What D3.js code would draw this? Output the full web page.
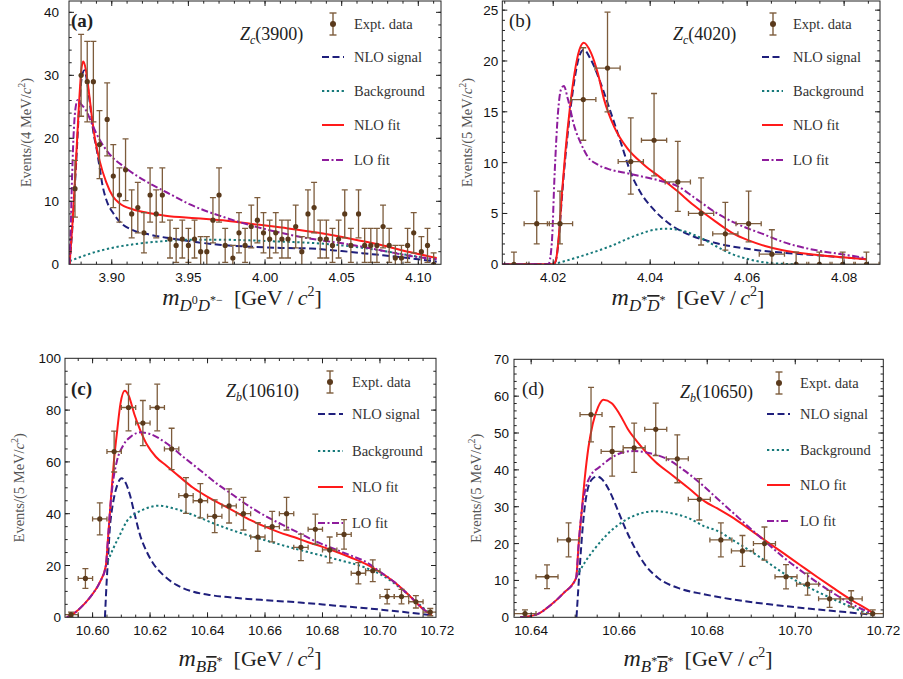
<!DOCTYPE html>
<html>
<head>
<meta charset="utf-8">
<script src="https://cdn.jsdelivr.net/npm/d3@7"></script>
<style>
body { margin: 0; background: #fff; }
svg { display: block; }
</style>
</head>
<body>
<svg id="fig" width="903" height="679"></svg>
<script>
// ---- panel (a): Zc(3900), D0 D*- spectrum
var aMass = [3.876, 3.880, 3.884, 3.888, 3.892, 3.897, 3.901, 3.905, 3.909, 3.913,
  3.917, 3.921, 3.925, 3.929, 3.933, 3.938, 3.942, 3.946, 3.950, 3.954,
  3.958, 3.962, 3.966, 3.970, 3.974, 3.979, 3.983, 3.987, 3.991, 3.995,
  3.999, 4.003, 4.007, 4.011, 4.015, 4.020, 4.024, 4.028, 4.032, 4.036,
  4.040, 4.044, 4.048, 4.052, 4.056, 4.061, 4.065, 4.069, 4.073, 4.077,
  4.081, 4.085, 4.089, 4.093, 4.097, 4.102, 4.106, 4.110];
var aEvents = [12, 30, 29, 29, 19, 23, 14, 11, 15, 8, 9, 5, 11, 8, 11, 4, 3, 4, 3, 4,
  2, 2, 7, 11, 3, 1, 5, 3, 6, 7, 5, 4, 5, 4, 4, 6, 2, 8, 9, 4,
  4, 3, 4, 8, 3, 8, 3, 3, 3, 6, 3, 1, 1, 3, 5, 2, 3, 0];
var aErr = [4.5, 6.5, 6.4, 6.4, 5.4, 5.8, 5.0, 4.3, 4.9, 3.8, 4.0, 3.2, 4.3, 3.8, 4.3, 3.0, 2.7, 3.0, 2.7, 3.0,
  2.4, 2.4, 3.6, 4.3, 2.7, 2.0, 3.2, 2.7, 3.4, 3.6, 3.2, 3.0, 3.2, 3.0, 3.0, 3.4, 2.4, 3.8, 4.0, 3.0,
  3.0, 2.7, 3.0, 3.8, 2.7, 3.8, 2.7, 2.7, 2.7, 3.4, 2.7, 2.0, 2.0, 2.7, 3.2, 2.4, 2.7, 1.8];
var aSignal = [[3.8725,0],[3.8745,6.5],[3.8767,15.8],[3.8789,25.5],[3.8805,29.8],[3.8822,30.8],[3.884,28.8],
  [3.886,25],[3.888,21],[3.890,18.5],[3.892,15.5],[3.894,12.5],[3.8965,10.2],[3.901,8.1],[3.905,6.8],
  [3.914,5.4],[3.925,4.7],[3.936,4.2],[3.950,3.7],[3.970,3.1],[3.990,2.8],[4.010,2.6],[4.030,2.5],
  [4.050,2.1],[4.070,1.6],[4.090,1.1],[4.112,0.4]];
var aBackground = [[3.8725,0.5],[3.880,1.2],[3.890,2.0],[3.900,2.6],[3.915,3.2],[3.930,3.6],[3.950,3.9],
  [3.970,3.9],[3.990,3.8],[4.010,3.6],[4.030,3.4],[4.050,3.0],[4.070,2.4],[4.090,1.6],[4.112,0.7]];
var aNloFit = [[3.8725,0],[3.8745,7],[3.8767,16.6],[3.8789,26.6],[3.8804,31.4],[3.8815,32.2],[3.883,31],
  [3.885,27.5],[3.887,23.5],[3.889,20],[3.892,16.5],[3.8963,13.1],[3.9007,10.8],[3.905,9.7],[3.914,8.7],
  [3.925,8.1],[3.935,7.7],[3.955,7.3],[3.975,6.9],[3.995,6.3],[4.015,5.7],[4.035,5.0],[4.055,4.1],
  [4.075,3.1],[4.095,1.9],[4.112,1.0]];
var aLoFit = [[3.8721,0],[3.8730,4],[3.8740,13],[3.8750,20],[3.8762,24.5],[3.8778,26.1],[3.879,25.7],
  [3.8833,24.4],[3.8876,22],[3.892,19.8],[3.8985,17.5],[3.909,15.3],[3.925,12.8],[3.936,11.4],[3.951,9.5],
  [3.973,7.5],[3.995,5.9],[4.016,4.7],[4.034,3.9],[4.054,3.2],[4.076,2.2],[4.098,1.2],[4.112,0.8]];
var aXTicks = [3.90, 3.95, 4.00, 4.05, 4.10];
var aYTicks = [0, 10, 20, 30, 40];

// ---- panel (b): Zc(4020), D* Dbar* spectrum
var bMass = [4.0119, 4.0166, 4.0214, 4.0262, 4.0312, 4.0360, 4.0408, 4.0457, 4.0505, 4.0555,
  4.0603, 4.0651, 4.0701, 4.0749, 4.0797, 4.0846];
var bEvents = [0, 4, 4, 16.2, 19.3, 10.1, 12.2, 8.1, 5.0, 3.0, 4.0, 1.0, 0, 0, 0, 0];
var bErrUp = [1.2, 3.2, 3.2, 5.1, 5.5, 4.3, 4.6, 4.0, 3.5, 3.1, 3.2, 2.4, 1.2, 1.2, 1.2, 1.2];
var bErrLo = [0, 2.0, 2.0, 4.0, 4.3, 3.2, 3.5, 2.9, 3.1, 1.6, 1.8, 1.0, 0, 0, 0, 0];
var bSignal = [[4.0095,0],[4.0200,0],[4.0205,0.3],[4.0212,2.8],[4.0218,6.6],[4.0225,10.5],[4.0234,14.6],
  [4.0244,18.2],[4.0254,20.5],[4.0263,21.1],[4.0278,20.1],[4.0298,17.8],[4.0319,14.9],[4.0340,11.9],
  [4.0360,9.0],[4.0381,7.0],[4.0408,5.35],[4.0442,3.9],[4.0476,3.0],[4.0535,2.1],[4.0603,1.5],
  [4.0671,1.15],[4.0740,0.9],[4.0846,0.5]];
var bBackground = [[4.0200,0],[4.0251,0.7],[4.0319,1.8],[4.0374,2.9],[4.0415,3.45],[4.0435,3.5],
  [4.0466,3.3],[4.0500,2.7],[4.0535,1.8],[4.0569,1.0],[4.0603,0.5],[4.0637,0.18],[4.0671,0.05],[4.0700,0]];
var bNloFit = [[4.0095,0],[4.0200,0],[4.0205,0.3],[4.0212,3],[4.0218,7],[4.0225,11],[4.0234,15.2],
  [4.0244,18.8],[4.0254,21.1],[4.0263,21.8],[4.0278,20.8],[4.0292,18.8],[4.0305,16.2],[4.0326,13.5],
  [4.0353,11.4],[4.0387,9.8],[4.0422,8.5],[4.0456,7.2],[4.0490,5.8],[4.0535,4.2],[4.0569,3.1],
  [4.0603,2.35],[4.0637,1.8],[4.0671,1.4],[4.0740,0.95],[4.0808,0.65],[4.0846,0.5]];
var bLoFit = [[4.0095,0],[4.0190,0],[4.0197,2],[4.0203,9],[4.0210,15],[4.0216,17.2],[4.0222,17.55],
  [4.0230,16.3],[4.0244,13.5],[4.0257,11.9],[4.0271,10.6],[4.0292,9.8],[4.0319,9.3],[4.0353,8.95],
  [4.0387,8.6],[4.0422,8.2],[4.0456,7.7],[4.0490,6.6],[4.0535,5.1],[4.0569,4.2],[4.0603,3.5],
  [4.0637,2.9],[4.0671,2.25],[4.0740,1.4],[4.0808,0.9],[4.0846,0.6]];
var bXTicks = [4.02, 4.04, 4.06, 4.08];
var bYTicks = [0, 5, 10, 15, 20, 25];

// ---- panel (c): Zb(10610), B Bbar* spectrum
var cMass = [10.5925, 10.5975, 10.6025, 10.6075, 10.6125, 10.6175, 10.6225, 10.6275, 10.6325, 10.6375,
  10.6425, 10.6475, 10.6525, 10.6575, 10.6625, 10.6675, 10.6725, 10.6775, 10.6825, 10.6875,
  10.6925, 10.6975, 10.7025, 10.7075, 10.7125, 10.7175];
var cEvents = [1, 15, 38, 64, 81, 75, 81, 65, 47, 45, 39, 43, 40, 31, 35, 40, 27, 34, 26, 32, 17, 18, 8, 8, 6, 2];
var cErr = [1.0, 3.8, 6.2, 7.9, 9.0, 8.7, 9.0, 8.0, 6.9, 6.6, 6.3, 6.6, 6.3, 5.5, 5.9, 6.3, 5.1, 5.8, 5.0, 5.7,
  4.1, 4.2, 2.8, 2.8, 2.4, 1.4];
var cSignal = [[10.6043,0],[10.6049,13.8],[10.6055,25],[10.6060,34.4],[10.6066,40.5],[10.6072,44.7],
  [10.6086,51.1],[10.6101,53.7],[10.6116,51.7],[10.6130,47.2],[10.6147,39.5],[10.6165,31.8],[10.6188,25.4],
  [10.6211,20.8],[10.6246,16.3],[10.6292,12.5],[10.6350,9.9],[10.6408,8.6],[10.6470,7.8],[10.6540,7.1],
  [10.6605,6.6],[10.6721,5.7],[10.6837,4.6],[10.6953,3.5],[10.7069,2.2],[10.7173,0.9]];
var cBackground = [[10.6046,19.8],[10.6072,26.6],[10.6095,31.8],[10.6118,36.9],[10.6153,40.2],[10.6188,42.1],
  [10.6228,43.1],[10.6280,42.1],[10.6350,39.5],[10.6420,36.3],[10.6489,33.5],[10.6605,29.6],[10.6721,26.0],
  [10.6837,22.7],[10.6953,19.0],[10.7011,16.0],[10.7069,11.5],[10.7127,6.0],[10.7174,1.3]];
var cNloFit = [[10.5910,0],[10.5935,1.5],[10.5970,5],[10.6000,9],[10.6025,13.5],[10.6046,19.8],[10.6054,31],
  [10.6064,46],[10.6074,60],[10.6086,72.5],[10.6097,82.5],[10.6112,87.5],[10.6126,85.5],[10.6145,78.5],
  [10.6165,72.5],[10.6190,66.5],[10.6220,62],[10.6257,58.5],[10.6300,54.5],[10.6350,50],[10.6400,46.5],
  [10.6450,43.5],[10.6500,40.5],[10.6550,37.5],[10.6600,35],[10.6650,32.8],[10.6700,31],[10.6750,29],
  [10.6800,27.2],[10.6850,25.2],[10.6900,23],[10.6950,20.6],[10.7000,17.5],[10.7050,13.6],[10.7100,8.6],
  [10.7150,3.2],[10.7180,0.8]];
var cLoFit = [[10.5910,0],[10.5935,1.5],[10.5970,5],[10.6000,9],[10.6025,13.5],[10.6046,19.8],[10.6054,31],
  [10.6062,43],[10.6072,53],[10.6085,60.5],[10.6107,66.5],[10.6136,70],[10.6165,71.4],[10.6199,70.8],
  [10.6257,67.2],[10.6315,62],[10.6373,56.9],[10.6431,51.7],[10.6489,47.2],[10.6547,42.7],[10.6605,38.9],
  [10.6663,35.6],[10.6721,32.4],[10.6779,29.2],[10.6837,26.6],[10.6895,24],[10.6953,21.3],[10.7000,17.6],
  [10.7050,13.6],[10.7100,8.6],[10.7150,3.2],[10.7180,0.8]];
var cXTicks = [10.60, 10.62, 10.64, 10.66, 10.68, 10.70, 10.72];
var cYTicks = [0, 20, 40, 60, 80, 100];

// ---- panel (d): Zb(10650), B* Bbar* spectrum
var dMass = [10.6386, 10.6436, 10.6485, 10.6536, 10.6584, 10.6634, 10.6683, 10.6732, 10.6782, 10.6831,
  10.6880, 10.6930, 10.6979, 10.7028, 10.7078, 10.7127, 10.7176];
var dEvents = [1, 11, 21, 55, 45, 46, 51, 43, 32, 21, 18, 20, 11, 9, 5, 5, 1];
var dErr = [1.0, 3.2, 4.6, 7.4, 6.7, 6.7, 7.1, 6.5, 5.6, 4.6, 4.2, 4.5, 3.3, 3.0, 2.3, 2.2, 1.0];
var dSignal = [[10.6503,0],[10.6511,14.7],[10.6519,27],[10.6527,34],[10.6538,37.4],[10.6550,38.2],
  [10.6560,37.6],[10.6570,36],[10.6583,33],[10.6598,28.7],[10.6614,24.1],[10.6636,18.7],[10.6659,14.2],
  [10.6689,10.6],[10.6735,7.9],[10.6795,6.2],[10.6860,4.8],[10.6936,3.6],[10.7011,2.6],[10.7087,1.7],
  [10.7150,1.0],[10.7180,0.6]];
var dBackground = [[10.6503,11],[10.6523,15.1],[10.6545,18.7],[10.6568,21.9],[10.6598,25.1],[10.6629,27.3],
  [10.6659,28.5],[10.6682,28.8],[10.6720,28.2],[10.6758,26.9],[10.6795,24.6],[10.6822,23.5],[10.6860,20.8],
  [10.6898,18],[10.6936,15],[10.6973,12],[10.7011,9.3],[10.7049,7],[10.7087,4.9],[10.7125,2.9],[10.7175,0.6]];
var dNloFit = [[10.6375,0],[10.6413,0.8],[10.6443,3.2],[10.6473,6.5],[10.6502,10.6],[10.6508,20],
  [10.6515,29],[10.6522,38],[10.6530,46],[10.6540,52.5],[10.6552,57],[10.6564,59],[10.6583,58.1],
  [10.6602,54.9],[10.6621,50.8],[10.6644,47.2],[10.6682,42.2],[10.6720,38.6],[10.6758,35],[10.6795,31.4],
  [10.6822,29.6],[10.6860,26.9],[10.6898,23.7],[10.6936,20.5],[10.6973,17.4],[10.7011,14.2],[10.7049,11],
  [10.7087,7.9],[10.7125,4.9],[10.7163,2.2],[10.7178,1.1]];
var dLoFit = [[10.6375,0],[10.6413,0.8],[10.6443,3.2],[10.6473,6.5],[10.6502,10.6],[10.6508,20],
  [10.6515,29],[10.6525,35.5],[10.6536,38.6],[10.6557,40.9],[10.6580,43.1],[10.6610,44.8],[10.6633,45.1],
  [10.6670,44.5],[10.6708,43],[10.6746,40],[10.6784,36.4],[10.6822,32.3],[10.6860,28.2],[10.6898,24.1],
  [10.6936,20.1],[10.6973,16.3],[10.7011,12.8],[10.7049,9.5],[10.7087,6.5],[10.7125,3.8],[10.7175,1]];
var dXTicks = [10.64, 10.66, 10.68, 10.70, 10.72];
var dYTicks = [0, 10, 20, 30, 40, 50, 60, 70];

var legendLabels = ["Expt. data", "NLO signal", "Background", "NLO fit", "LO fit"];

var SERIF = "'Liberation Serif', 'Times New Roman', serif";
var SANS = "'Liberation Sans', Arial, Helvetica, sans-serif";
var dataDot = "#5a3a1c", dataBar = "#7d5c3c";
var curveStyles = [
  {key: "signal", color: "#1f1f7c", dash: "7,3.5"},
  {key: "bg", color: "#16797a", dash: "2.3,2.6"},
  {key: "nlo", color: "#ff1a1a", dash: null},
  {key: "lo", color: "#8e1c9c", dash: "7,2.5,2,2.5"}
];

// parts of the x-axis titles: [text, italic?, baseline shift, size, overbar?]
function massLabel(sub) {
  return [["m", 1, 0, 24]].concat(sub).concat([
    ["\u2002[GeV\u2009/\u2009", 0, 0, 22], ["c", 1, 0, 22], ["2", 0, -9, 14], ["]", 0, 0, 22]]);
}

var panels = [
  {key: "a", tag: "(a)", bold: true, zsub: "c", zname: "(3900)", box: {l: 69, t: 1, r: 441, b: 264.3},
   xDom: [3.8721, 4.1148], yDom: [0, 41.8], xTicks: aXTicks, xMinor: 0.01, yTicks: aYTicks, yMinor: 2, gap: 10,
   mass: aMass, events: aEvents, up: aErr, lo: aErr, xErr: 0,
   curves: {signal: aSignal, bg: aBackground, nlo: aNloFit, lo: aLoFit},
   bin: "4", ylabX: 31, xlabX: 242, xlabY: 305, tagPos: [71, 27], zPos: [240, 40],
   xlab: massLabel([["D", 1, 6, 17], ["0", 0, -1, 12], ["D", 1, 6, 17], ["*\u2212", 0, -1, 12]]),
   leg: {x0: 322, x1: 344, mark: 333, text: 354, ys: [24, 57, 91, 125, 160]}},
  {key: "b", tag: "(b)", bold: false, zsub: "c", zname: "(4020)", box: {l: 502.3, t: 1, r: 880, b: 264.3},
   xDom: [4.0095, 4.0874], yDom: [0, 25.9], xTicks: bXTicks, xMinor: 0.005, yTicks: bYTicks, yMinor: 1, gap: 4,
   mass: bMass, events: bEvents, up: bErrUp, lo: bErrLo, xErr: 0.0026,
   curves: {signal: bSignal, bg: bBackground, nlo: bNloFit, lo: bLoFit},
   bin: "5", ylabX: 472, xlabX: 688, xlabY: 305, tagPos: [509, 27], zPos: [673, 40],
   xlab: massLabel([["D", 1, 6, 17], ["*", 0, -1, 12], ["D", 1, 6, 17, 1], ["*", 0, -1, 12]]),
   leg: {x0: 762, x1: 783, mark: 773, text: 793, ys: [24, 57, 91, 125, 160]}},
  {key: "c", tag: "(c)", bold: true, zsub: "b", zname: "(10610)", box: {l: 65, t: 358.3, r: 436, b: 617.3},
   xDom: [10.5904, 10.7195], yDom: [0, 100], xTicks: cXTicks, xMinor: 0.005, yTicks: cYTicks, yMinor: 5, gap: 4,
   mass: cMass, events: cEvents, up: cErr, lo: cErr, xErr: 0.0025,
   curves: {signal: cSignal, bg: cBackground, nlo: cNloFit, lo: cLoFit},
   bin: "5", ylabX: 24, xlabX: 250, xlabY: 666, tagPos: [71, 395], zPos: [226, 397],
   xlab: massLabel([["B", 1, 6, 17], ["B", 1, 6, 17, 1], ["*", 0, -1, 12]]),
   leg: {x0: 318, x1: 343, mark: 330, text: 352, ys: [382, 414, 451, 487, 523]}},
  {key: "d", tag: "(d)", bold: false, zsub: "b", zname: "(10650)", box: {l: 514, t: 359.3, r: 883.3, b: 617.3},
   xDom: [10.6361, 10.7200], yDom: [0, 70], xTicks: dXTicks, xMinor: 0.005, yTicks: dYTicks, yMinor: 2, gap: 5,
   mass: dMass, events: dEvents, up: dErr, lo: dErr, xErr: 0.0025,
   curves: {signal: dSignal, bg: dBackground, nlo: dNloFit, lo: dLoFit},
   bin: "5", ylabX: 481, xlabX: 698, xlabY: 666, tagPos: [522, 395], zPos: [680, 398],
   xlab: massLabel([["B", 1, 6, 17], ["*", 0, -1, 12], ["B", 1, 6, 17, 1], ["*", 0, -1, 12]]),
   leg: {x0: 767, x1: 790, mark: 779, text: 800, ys: [383, 414, 450, 485, 521]}}
];

var svg = d3.select("#fig");
var defs = svg.append("defs");

function richText(sel, parts) {
  var cur = 0;
  parts.forEach(function(p) {
    var ts = sel.append("tspan").text(p[0])
      .attr("font-style", p[1] ? "italic" : "normal")
      .attr("font-size", p[3])
      .attr("dy", p[2] - cur);
    if (p[4]) ts.attr("text-decoration", "overline");
    cur = p[2];
  });
  return sel;
}

function minorTicks(dom, step) {
  var out = [], k = Math.ceil(dom[0] / step - 1e-9);
  for (; k * step <= dom[1] + 1e-9; k++) out.push(+(k * step).toFixed(6));
  return out;
}

function errorMark(g, cx, cy, half) {
  g.append("line").attr("x1", cx).attr("x2", cx).attr("y1", cy - half).attr("y2", cy + half)
    .attr("stroke", dataBar).attr("stroke-width", 1.4);
  [cy - half, cy + half].forEach(function(yy) {
    g.append("line").attr("x1", cx - 3.5).attr("x2", cx + 3.5).attr("y1", yy).attr("y2", yy)
      .attr("stroke", dataBar).attr("stroke-width", 1.4);
  });
  g.append("circle").attr("cx", cx).attr("cy", cy).attr("r", 3).attr("fill", dataDot);
}

panels.forEach(function(p) {
  var g = svg.append("g");
  var x = d3.scaleLinear().domain(p.xDom).range([p.box.l, p.box.r]);
  var y = d3.scaleLinear().domain(p.yDom).range([p.box.b, p.box.t]);

  defs.append("clipPath").attr("id", "clip-" + p.key).append("rect")
    .attr("x", p.box.l).attr("y", p.box.t)
    .attr("width", p.box.r - p.box.l).attr("height", p.box.b - p.box.t);
  var plot = g.append("g").attr("clip-path", "url(#clip-" + p.key + ")");

  // theory curves
  var line = d3.line().x(function(d) { return x(d[0]); }).y(function(d) { return y(d[1]); })
    .curve(d3.curveMonotoneX);
  curveStyles.forEach(function(s) {
    plot.append("path").attr("d", line(p.curves[s.key]))
      .attr("fill", "none").attr("stroke", s.color).attr("stroke-width", 2)
      .attr("stroke-dasharray", s.dash);
  });

  // data with error bars
  var pts = p.mass.map(function(m, i) { return {m: m, n: p.events[i], up: p.up[i], lo: p.lo[i]}; });
  var dg = plot.append("g").attr("stroke", dataBar).attr("stroke-width", 1.3);
  pts.forEach(function(d) {
    var cx = x(d.m), cy = y(d.n), y1 = y(d.n + d.up), y0 = y(d.n - d.lo);
    dg.append("line").attr("x1", cx).attr("x2", cx).attr("y1", y1).attr("y2", y0);
    dg.append("line").attr("x1", cx - 3).attr("x2", cx + 3).attr("y1", y1).attr("y2", y1);
    if (d.lo > 0) dg.append("line").attr("x1", cx - 3).attr("x2", cx + 3).attr("y1", y0).attr("y2", y0);
    if (p.xErr > 0) {
      var xa = x(d.m - p.xErr), xb = x(d.m + p.xErr);
      dg.append("line").attr("x1", xa).attr("x2", xb).attr("y1", cy).attr("y2", cy);
      dg.append("line").attr("x1", xa).attr("x2", xa).attr("y1", cy - 2.5).attr("y2", cy + 2.5);
      dg.append("line").attr("x1", xb).attr("x2", xb).attr("y1", cy - 2.5).attr("y2", cy + 2.5);
    }
  });
  plot.append("g").selectAll("circle").data(pts).join("circle")
    .attr("cx", function(d) { return x(d.m); }).attr("cy", function(d) { return y(d.n); })
    .attr("r", 2.6).attr("fill", dataDot);

  // frame with inward ticks on all sides
  var fr = g.append("g").attr("stroke", "#222").attr("stroke-width", 1);
  fr.append("rect").attr("x", p.box.l).attr("y", p.box.t)
    .attr("width", p.box.r - p.box.l).attr("height", p.box.b - p.box.t).attr("fill", "none");
  function xTick(v, len) {
    var px = x(v);
    if (px < p.box.l + 0.5 || px > p.box.r - 0.5) return;
    fr.append("line").attr("x1", px).attr("x2", px).attr("y1", p.box.b).attr("y2", p.box.b - len);
    fr.append("line").attr("x1", px).attr("x2", px).attr("y1", p.box.t).attr("y2", p.box.t + len);
  }
  function yTick(v, len) {
    var py = y(v);
    if (py < p.box.t + 0.5 || py > p.box.b - 0.5) return;
    fr.append("line").attr("x1", p.box.l).attr("x2", p.box.l + len).attr("y1", py).attr("y2", py);
    fr.append("line").attr("x1", p.box.r).attr("x2", p.box.r - len).attr("y1", py).attr("y2", py);
  }
  minorTicks(p.xDom, p.xMinor).forEach(function(v) { xTick(v, 2.7); });
  p.xTicks.forEach(function(v) { xTick(v, 5); });
  minorTicks(p.yDom, p.yMinor).forEach(function(v) { yTick(v, 2.7); });
  p.yTicks.forEach(function(v) { yTick(v, 5); });

  // tick labels
  var fx = d3.format(".2f");
  g.append("g").selectAll("text").data(p.xTicks).join("text")
    .attr("x", function(d) { return x(d); }).attr("y", p.box.b + 17.5)
    .attr("text-anchor", "middle").attr("font-family", SANS).attr("font-size", 13.5).attr("fill", "#111")
    .text(fx);
  g.append("g").selectAll("text").data(p.yTicks).join("text")
    .attr("x", p.box.l - p.gap).attr("y", function(d) { return y(d) + 5; })
    .attr("text-anchor", "end").attr("font-family", SANS).attr("font-size", 13.5).attr("fill", "#111")
    .text(function(d) { return d; });

  // axis titles
  var yl = g.append("text")
    .attr("transform", "translate(" + p.ylabX + "," + ((p.box.t + p.box.b) / 2) + ") rotate(-90)")
    .attr("text-anchor", "middle").attr("font-family", SERIF).attr("fill", "#555");
  richText(yl, [["Events/(" + p.bin + " MeV/", 0, 0, 14.5], ["c", 1, 0, 14.5], ["2", 0, -6, 10], [")", 0, 0, 14.5]]);
  var xl = g.append("text").attr("x", p.xlabX).attr("y", p.xlabY)
    .attr("text-anchor", "middle").attr("font-family", SERIF).attr("fill", "#222");
  richText(xl, p.xlab);

  // panel tag and state name
  g.append("text").attr("x", p.tagPos[0]).attr("y", p.tagPos[1])
    .attr("font-family", SERIF).attr("font-size", 19).attr("font-weight", p.bold ? "bold" : "normal")
    .attr("fill", "#222").text(p.tag);
  var zt = g.append("text").attr("x", p.zPos[0]).attr("y", p.zPos[1])
    .attr("font-family", SERIF).attr("fill", "#222");
  richText(zt, [["Z", 1, 0, 18], [p.zsub, 1, 4, 12], [p.zname, 0, 0, 18]]);

  // legend
  var lg = g.append("g");
  errorMark(lg, p.leg.mark, p.leg.ys[0], 11);
  curveStyles.forEach(function(s, i) {
    var yy = p.leg.ys[i + 1];
    lg.append("line").attr("x1", p.leg.x0).attr("x2", p.leg.x1).attr("y1", yy).attr("y2", yy)
      .attr("stroke", s.color).attr("stroke-width", 2).attr("stroke-dasharray", s.dash);
  });
  lg.selectAll("text").data(legendLabels).join("text")
    .attr("x", p.leg.text).attr("y", function(d, i) { return p.leg.ys[i] + 5; })
    .attr("font-family", SERIF).attr("font-size", 14.5).attr("fill", "#333")
    .text(function(d) { return d; });
});
</script>
</body>
</html>
